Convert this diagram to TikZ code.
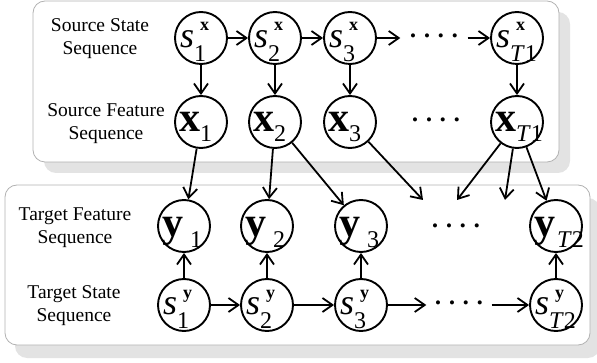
\documentclass[tikz,border=0pt]{standalone}
\usepackage{fontspec}
\setmainfont{Liberation Serif}
\usetikzlibrary{arrows.meta}

\newcommand{\letfnt}{\fontsize{36}{36}\selectfont}
\newcommand{\boldfnt}{\fontsize{42}{42}\selectfont\bfseries}
\newcommand{\supfnt}{\fontsize{18}{18}\selectfont\bfseries}
\newcommand{\subfnt}{\normalfont\fontsize{24}{24}\selectfont}
% state: italic s with bold superscript and subscript
\newcommand{\slab}[2]{\makebox[44pt][l]{\hspace{1pt}\letfnt\textit{s}\rlap{\hspace{6pt}\raisebox{17pt}{\supfnt #1}}\raisebox{-14pt}{\subfnt #2}}}
% feature: bold letter, gap, subscript drop
\newcommand{\flab}[4]{\makebox[44pt][l]{\boldfnt #1\hspace{#3}\raisebox{#4}{\subfnt #2}}}
\newcommand{\dotrow}{\textbullet\hspace{8pt}\textbullet\hspace{8pt}\textbullet\hspace{8pt}\textbullet}

\begin{document}
\begin{tikzpicture}[x=1pt,y=-1pt,>={Straight Barb[length=10pt,width=14pt]},
  panel/.style={draw=black!30, line width=0.8pt, fill=white, rounded corners=12pt},
  shade/.style={fill=black!11, rounded corners=12pt},
  var/.style={circle, draw, fill=white, line width=1.9pt, minimum size=52pt,
    inner sep=0pt, text height=20pt, text depth=0pt},
  dotsbox/.style={inner sep=0pt, font=\fontsize{17}{17}\selectfont},
  side/.style={align=center, font=\fontsize{19.5}{23}\selectfont},
  link/.style={->, line width=1.8pt}]
\useasboundingbox (0,0) rectangle (597,363);

% panels
\fill[shade] (44,12) rectangle (570,173);
\draw[panel] (33,1) rectangle (559,162);
\fill[shade] (15,198) rectangle (600,358);
\draw[panel] (5,185) rectangle (590,345);

% row labels
\node[side] (lsx) at (100,39) {Source State\\Sequence};
\node[side] (lx)  at (106,124) {Source Feature\\Sequence};
\node[side] (ly)  at (75,228) {Target Feature\\Sequence};
\node[side] (lsy) at (74,306) {Target State\\Sequence};

% source side
\node[var] (sx1) at (201,38) {\slab{x}{1}};
\node[var] (sx2) at (275,38) {\slab{x}{2}};
\node[var] (sx3) at (350,38) {\slab{x}{3}};
\node[var] (sxT) at (517,38) {\slab{x}{\textit{T}1}};
\node[var] (x1) at (201,122) {\flab{x}{1}{0pt}{-10pt}};
\node[var] (x2) at (275,122) {\flab{x}{2}{0pt}{-10pt}};
\node[var] (x3) at (350,122) {\flab{x}{3}{0pt}{-10pt}};
\node[var] (xT) at (517,122) {\flab{x}{\textit{T}1}{0pt}{-10pt}};
\node[dotsbox, minimum width=67pt] (dsx) at (434,38) {\dotrow};
\node[dotsbox] (dx) at (436,122) {\dotrow};

% target side
\node[var, text height=22pt] (y1) at (184,226) {\flab{y}{1}{7pt}{-11pt}};
\node[var, text height=22pt] (y2) at (267,226) {\flab{y}{2}{7pt}{-11pt}};
\node[var, text height=22pt] (y3) at (361,226) {\flab{y}{3}{7pt}{-11pt}};
\node[var, text height=22pt] (yT) at (556,226) {\flab{y}{\textit{T}2}{2pt}{-11pt}};
\node[var] (sy1) at (184,305) {\slab{y}{1}};
\node[var] (sy2) at (267,305) {\slab{y}{2}};
\node[var] (sy3) at (361,305) {\slab{y}{3}};
\node[var] (syT) at (556,305) {\slab{y}{\textit{T}2}};
\node[dotsbox] (dy) at (456,228) {\dotrow};
\node[dotsbox, minimum width=65pt] (dsy) at (459,305) {\dotrow};

% loose ends of the cross links
\coordinate (e1) at (423,200);
\coordinate (e2) at (457,200);
\coordinate (e3) at (505,200);

\foreach \a/\b in {sx1/sx2, sx2/sx3, sx3/dsx, dsx/sxT, sy1/sy2, sy2/sy3, sy3/dsy, dsy/syT}
  \draw[link] (\a) -- (\b);
\foreach \i in {1,2,3,T} {
  \draw[link] (sx\i) -- (x\i);
  \draw[link] (sy\i) -- (y\i);
}
\foreach \a/\b in {x1/y1, x2/y2, x2/y3, x3/e1, xT/e2, xT/e3, xT/yT}
  \draw[link] (\a) -- (\b);
\end{tikzpicture}
\end{document}
